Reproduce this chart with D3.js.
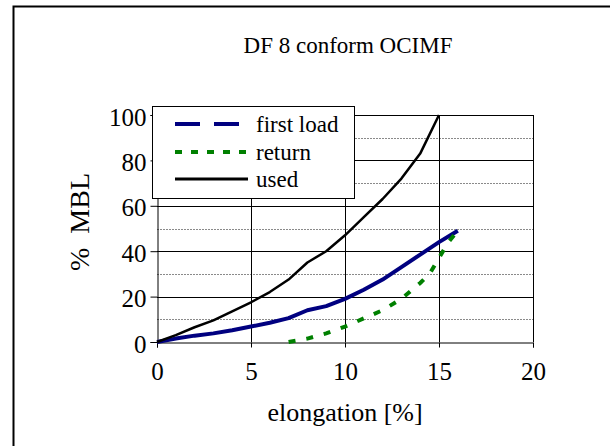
<!DOCTYPE html>
<html>
<head>
<meta charset="utf-8">
<script src="https://cdn.jsdelivr.net/npm/d3@7"></script>
<style>
  html, body { margin: 0; padding: 0; background: #fff; }
  svg { display: block; }
  text { font-family: "Liberation Serif", "Times New Roman", serif; fill: #000; }
</style>
</head>
<body>
<svg id="chart" width="610" height="446"></svg>
<script>
// ---- data ----
const chartTitle = "DF 8 conform OCIMF";
const xTitle = "elongation [%]";
const yTitle = "%  MBL";
const xTicks = [0, 5, 10, 15, 20];
const yTicks = [0, 20, 40, 60, 80, 100];
const yMinorTicks = [10, 30, 50, 70, 90];
const seriesNames = ["first load", "return", "used"];

const firstLoadX = [0, 1, 2, 3, 4, 5, 6, 7, 8, 9, 10, 11, 12, 13, 14, 15, 16];
const firstLoadY = [0, 1.5, 2.8, 3.8, 5.2, 6.8, 8.5, 10.5, 14, 15.8, 19, 23, 27.5, 33, 38.5, 44, 49];

const returnX = [7, 8, 9, 10, 11, 12, 13, 14, 14.5, 15, 15.5, 16];
const returnY = [0, 1.5, 3.8, 6.8, 10.4, 14, 19, 26, 30, 37, 44, 49];

const usedX = [0, 1, 2, 3, 4, 5, 6, 7, 8, 9, 10, 11, 12, 13, 14, 15];
const usedY = [0, 3, 6.5, 9.5, 13.5, 17.5, 22, 27.5, 35, 40, 47, 55, 63, 72, 83, 100];

// ---- drawing ----
const svg = d3.select("#chart");
svg.append("rect").attr("width", 610).attr("height", 446).attr("fill", "#fff");

// outer chart-area border
svg.append("rect")
  .attr("x", 13.5).attr("y", 6.5).attr("width", 640).attr("height", 480)
  .attr("fill", "none").attr("stroke", "#000").attr("stroke-width", 2);

const x = d3.scaleLinear().domain([0, 20]).range([157, 533]);
const y = d3.scaleLinear().domain([0, 100]).range([342, 115]);

// minor gridlines
svg.append("g").selectAll("line").data(yMinorTicks).join("line")
  .attr("x1", x(0)).attr("x2", x(20))
  .attr("y1", d => Math.round(y(d)) + 0.5).attr("y2", d => Math.round(y(d)) + 0.5)
  .attr("stroke", "#8a8a8a").attr("stroke-width", 1).attr("stroke-dasharray", "2,1");

// major horizontal gridlines
svg.append("g").selectAll("line").data(yTicks.slice(1)).join("line")
  .attr("x1", x(0)).attr("x2", x(20))
  .attr("y1", d => Math.round(y(d)) + 0.5).attr("y2", d => Math.round(y(d)) + 0.5)
  .attr("stroke", "#000").attr("stroke-width", 1);

// vertical gridlines
svg.append("g").selectAll("line").data(xTicks.slice(1)).join("line")
  .attr("x1", d => Math.round(x(d)) + 0.5).attr("x2", d => Math.round(x(d)) + 0.5)
  .attr("y1", y(0)).attr("y2", y(100))
  .attr("stroke", "#000").attr("stroke-width", 1);

// axes
const yAxis = svg.append("g")
  .attr("transform", `translate(${Math.round(x(0)) + 0.5},0)`)
  .call(d3.axisLeft(y).tickValues(yTicks).tickSize(7).tickPadding(4).tickFormat(d3.format("d")));
yAxis.select(".domain").attr("stroke", "#000");
yAxis.selectAll("text").attr("font-size", 25).attr("font-family", "Liberation Serif").attr("dy", "0.4em");

const xAxis = svg.append("g")
  .attr("transform", `translate(0,${Math.round(y(0)) + 0.5})`)
  .call(d3.axisBottom(x).tickValues(xTicks).tickSize(5).tickPadding(15).tickFormat(d3.format("d")));
xAxis.select(".domain").attr("stroke", "#000");
xAxis.selectAll("text").attr("font-size", 25).attr("font-family", "Liberation Serif");

// lines
const line = d3.line().x(d => x(d[0])).y(d => y(d[1]));

svg.append("path")
  .datum(firstLoadX.map((v, i) => [v, firstLoadY[i]]))
  .attr("d", line).attr("fill", "none")
  .attr("stroke", "#000080").attr("stroke-width", 4).attr("stroke-linejoin", "round");

svg.append("path")
  .datum(returnX.map((v, i) => [v, returnY[i]]))
  .attr("d", line).attr("fill", "none")
  .attr("stroke", "#008000").attr("stroke-width", 4).attr("stroke-dasharray", "7,11");

svg.append("path")
  .datum(usedX.map((v, i) => [v, usedY[i]]))
  .attr("d", line).attr("fill", "none")
  .attr("stroke", "#000").attr("stroke-width", 2.5).attr("stroke-linejoin", "round");

// legend
const lg = svg.append("g");
lg.append("rect").attr("x", 152.5).attr("y", 106.5).attr("width", 202).attr("height", 92)
  .attr("fill", "#fff").attr("stroke", "#000").attr("stroke-width", 1);
const legendStyles = [
  { color: "#000080", width: 4, dash: "25,14" },
  { color: "#008000", width: 4, dash: "7,9" },
  { color: "#000", width: 3, dash: null }
];
const rowY = [124, 152, 179];
seriesNames.forEach((name, i) => {
  const s = legendStyles[i];
  const l = lg.append("line").attr("x1", 175).attr("x2", 248)
    .attr("y1", rowY[i]).attr("y2", rowY[i])
    .attr("stroke", s.color).attr("stroke-width", s.width);
  if (s.dash) l.attr("stroke-dasharray", s.dash);
  lg.append("text").attr("x", 256).attr("y", rowY[i]).attr("dy", "0.35em")
    .attr("font-size", 23).text(name);
});

// titles
svg.append("text").attr("x", 348).attr("y", 53).attr("text-anchor", "middle")
  .attr("font-size", 23).text(chartTitle);
svg.append("text").attr("x", 345).attr("y", 421).attr("text-anchor", "middle")
  .attr("font-size", 26).text(xTitle);
svg.append("text").attr("transform", "translate(89,222) rotate(-90)").attr("text-anchor", "middle")
  .attr("font-size", 28).attr("xml:space", "preserve").style("white-space", "pre").text(yTitle);
</script>
</body>
</html>
